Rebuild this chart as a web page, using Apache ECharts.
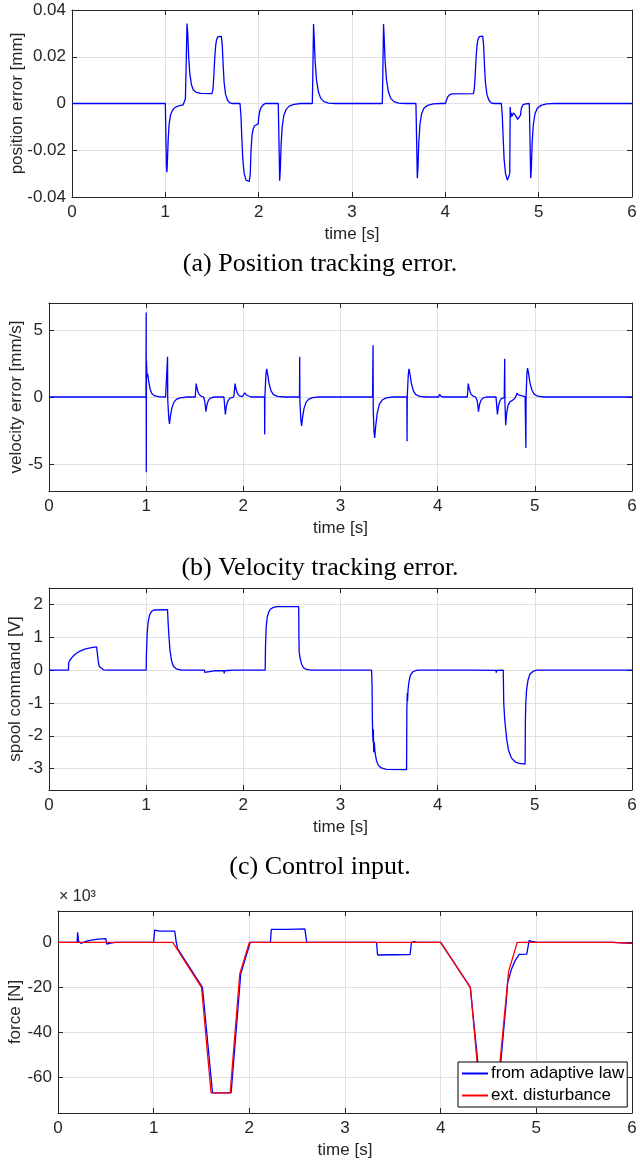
<!DOCTYPE html>
<html lang="en">
<head>
<meta charset="UTF-8">
<title>Tracking results</title>
<script src="https://cdn.jsdelivr.net/npm/echarts@6/dist/echarts.min.js"></script>
<style>
    html, body { margin: 0; padding: 0; background: #fff; }
    #chart { width: 640px; height: 1161px; }
</style>
</head>
<body>
<div id="chart"></div>
<script>
// tick values
var timeTicks = [0, 1, 2, 3, 4, 5, 6];
var posTicks = [-0.04, -0.02, 0, 0.02, 0.04];
var velTicks = [-5, 0, 5];
var spoolTicks = [-3, -2, -1, 0, 1, 2];
var forceTicks = [-60, -40, -20, 0];

// (a) position error [mm], pairs of [time s, value]
var positionError = [
    [0,0],[1.0,0],[1.005,-0.012],[1.012,-0.027],[1.017,-0.0294],[1.022,-0.025],[1.03,-0.016],[1.04,-0.009],
    [1.055,-0.005],[1.075,-0.003],[1.1,-0.0018],[1.14,-0.001],[1.19,-0.0006],[1.205,0],[1.215,0.002],
    [1.225,0.02],[1.232,0.0342],[1.24,0.03],[1.25,0.02],[1.262,0.013],[1.28,0.008],[1.3,0.0058],[1.33,0.0048],
    [1.38,0.0043],[1.5,0.0042],[1.51,0.006],[1.52,0.012],[1.53,0.02],[1.54,0.025],[1.55,0.0275],[1.565,0.0286],
    [1.6,0.0287],[1.61,0.025],[1.62,0.016],[1.63,0.009],[1.645,0.004],[1.665,0.0015],[1.69,0.0003],[1.72,0],
    [1.8,0],[1.81,-0.005],[1.82,-0.015],[1.83,-0.024],[1.845,-0.03],[1.865,-0.0328],[1.885,-0.0333],[1.9,-0.0333],
    [1.91,-0.03],[1.918,-0.02],[1.928,-0.014],[1.94,-0.011],[1.955,-0.0095],[1.975,-0.0088],[1.995,-0.0087],
    [2.0,-0.006],[2.01,-0.0035],[2.025,-0.0018],[2.045,-0.0007],[2.07,0],[2.21,0],[2.217,-0.015],[2.225,-0.033],
    [2.232,-0.028],[2.24,-0.018],[2.252,-0.01],[2.27,-0.005],[2.295,-0.0025],[2.33,-0.001],[2.38,-0.0004],[2.45,0],
    [2.575,0],[2.58,0.012],[2.588,0.034],[2.595,0.028],[2.605,0.018],[2.62,0.01],[2.64,0.005],[2.665,0.0022],
    [2.7,0.0008],[2.75,0.0002],[2.82,0],[3.325,0],[3.33,0.012],[3.338,0.034],[3.345,0.028],[3.355,0.018],
    [3.37,0.01],[3.39,0.005],[3.415,0.0022],[3.45,0.0008],[3.5,0.0002],[3.57,0],[3.685,0],[3.692,-0.015],
    [3.7,-0.032],[3.707,-0.027],[3.715,-0.017],[3.728,-0.009],[3.745,-0.0045],[3.77,-0.002],[3.81,-0.0008],
    [3.87,-0.0002],[3.95,0],[4.0,0],[4.01,0.0012],[4.025,0.0028],[4.045,0.0037],[4.07,0.0041],[4.3,0.0042],
    [4.31,0.006],[4.32,0.012],[4.33,0.02],[4.34,0.025],[4.35,0.0275],[4.365,0.0286],[4.4,0.0288],[4.41,0.025],
    [4.42,0.016],[4.43,0.009],[4.445,0.004],[4.465,0.0015],[4.49,0.0003],[4.52,0],[4.6,0],[4.61,-0.005],
    [4.62,-0.015],[4.63,-0.024],[4.645,-0.03],[4.665,-0.0328],[4.685,-0.0333],[4.69,-0.03],[4.695,-0.0015],
    [4.7,-0.006],[4.705,-0.004],[4.715,-0.0055],[4.73,-0.004],[4.75,-0.005],[4.775,-0.0068],[4.795,-0.0072],
    [4.805,-0.005],[4.815,-0.002],[4.83,-0.0006],[4.86,-0.0002],[4.9,0],[4.907,-0.015],[4.915,-0.032],
    [4.922,-0.027],[4.93,-0.017],[4.943,-0.009],[4.96,-0.0045],[4.985,-0.002],[5.025,-0.0008],[5.085,-0.0002],
    [5.17,0],[6,0]
];

// (b) velocity error [mm/s]
var velocityError = [
    [0,0],[0.998,0],[1.0,6.3],[1.001,-5.6],[1.003,2.7],[1.008,1.5],[1.015,1.75],[1.025,1.2],[1.04,0.6],
    [1.06,0.25],[1.09,0.08],[1.13,0.02],[1.2,0],[1.215,0],[1.22,3.0],[1.222,-0.2],[1.232,-1.5],[1.24,-2.0],
    [1.25,-1.4],[1.265,-0.8],[1.285,-0.4],[1.31,-0.18],[1.35,-0.06],[1.42,0],[1.505,0],[1.515,1.0],[1.525,0.6],
    [1.54,0.25],[1.56,0.08],[1.59,0],[1.6,0],[1.603,-0.3],[1.615,-1.1],[1.625,-0.6],[1.64,-0.25],[1.66,-0.08],
    [1.7,0],[1.8,0],[1.805,-0.4],[1.815,-1.3],[1.825,-0.7],[1.84,-0.3],[1.86,-0.1],[1.9,0],[1.905,0.2],
    [1.915,1.0],[1.925,0.6],[1.94,0.25],[1.96,0.08],[1.99,0.02],[2.005,0.05],[2.015,0.3],[2.03,0.15],[2.05,0.03],
    [2.08,0],[2.218,0],[2.22,-2.8],[2.222,0],[2.232,1.6],[2.24,2.1],[2.25,1.7],[2.265,1.0],[2.285,0.45],
    [2.31,0.18],[2.35,0.05],[2.42,0],[2.578,0],[2.58,3.0],[2.582,-0.3],[2.592,-1.7],[2.6,-2.15],[2.61,-1.5],
    [2.625,-0.85],[2.645,-0.4],[2.67,-0.18],[2.71,-0.05],[2.78,0],[3.33,0],[3.335,3.85],[3.337,-1.0],
    [3.345,-2.6],[3.352,-3.05],[3.362,-2.2],[3.378,-1.2],[3.4,-0.55],[3.43,-0.22],[3.47,-0.07],[3.54,0],
    [3.683,0],[3.685,-3.3],[3.687,0],[3.697,1.6],[3.705,2.1],[3.715,1.7],[3.73,1.0],[3.75,0.45],[3.775,0.18],
    [3.815,0.05],[3.88,0],[4.01,0],[4.02,0.2],[4.035,0.05],[4.06,0],[4.305,0],[4.315,1.0],[4.325,0.6],
    [4.34,0.25],[4.36,0.08],[4.39,0],[4.405,0],[4.408,-0.3],[4.42,-1.1],[4.43,-0.6],[4.445,-0.25],[4.465,-0.08],
    [4.5,0],[4.6,0],[4.605,-0.4],[4.615,-1.3],[4.625,-0.7],[4.64,-0.3],[4.655,-0.12],[4.685,-0.05],[4.69,2.85],
    [4.692,-0.3],[4.7,-2.1],[4.71,-1.2],[4.725,-0.6],[4.745,-0.35],[4.77,-0.25],[4.795,-0.1],[4.81,0.15],
    [4.818,0.3],[4.83,0.15],[4.85,0.05],[4.9,0.02],[4.905,0],[4.908,-3.8],[4.91,0],[4.918,1.7],[4.925,2.15],
    [4.935,1.8],[4.95,1.05],[4.97,0.5],[4.995,0.2],[5.03,0.06],[5.09,0],[6,0]
];

// (c) spool command [V]
var spoolCommand = [
    [0,0],[0.2,0],[0.202,0.22],[0.215,0.3],[0.235,0.38],[0.26,0.46],[0.29,0.53],[0.32,0.58],[0.36,0.63],
    [0.4,0.665],[0.45,0.69],[0.49,0.705],[0.5,0.71],[0.502,0.4],[0.51,0.2],[0.52,0.1],[0.535,0.04],[0.56,0.01],
    [0.6,0],[1.0,0],[1.003,0.5],[1.01,1.1],[1.02,1.45],[1.035,1.68],[1.055,1.79],[1.08,1.83],[1.22,1.84],
    [1.225,1.5],[1.235,1.0],[1.245,0.6],[1.26,0.3],[1.28,0.12],[1.31,0.04],[1.36,0],[1.5,0],[1.505,0.03],
    [1.51,0],[1.6,0],[1.603,-0.07],[1.607,-0.02],[1.7,-0.02],[1.8,-0.02],[1.803,-0.1],[1.807,-0.02],[1.9,0],
    [1.903,0.03],[1.91,0],[2.225,0],[2.228,0.7],[2.235,1.3],[2.245,1.6],[2.26,1.76],[2.28,1.86],[2.31,1.91],
    [2.35,1.93],[2.57,1.93],[2.572,1.0],[2.575,0.55],[2.585,0.35],[2.6,0.18],[2.62,0.07],[2.65,0.02],[2.7,0],
    [3.32,0],[3.325,-0.5],[3.328,-1.5],[3.332,-2.0],[3.336,-2.2],[3.338,-1.8],[3.342,-2.5],[3.348,-2.2],
    [3.355,-2.5],[3.37,-2.75],[3.39,-2.9],[3.42,-2.98],[3.47,-3.02],[3.68,-3.03],[3.683,-1.2],[3.687,-0.7],
    [3.69,-0.95],[3.695,-0.6],[3.705,-0.35],[3.72,-0.15],[3.745,-0.05],[3.78,-0.01],[3.82,0],[4.3,0],
    [4.303,0.03],[4.31,0],[4.4,0],[4.403,-0.06],[4.41,-0.01],[4.6,-0.01],[4.603,-0.08],[4.607,-0.01],[4.675,0],
    [4.68,-1.0],[4.69,-1.5],[4.71,-2.1],[4.73,-2.45],[4.76,-2.68],[4.8,-2.8],[4.84,-2.84],[4.9,-2.86],
    [4.903,-1.5],[4.907,-1.0],[4.915,-0.6],[4.93,-0.3],[4.95,-0.12],[4.98,-0.04],[5.02,0],[6,0]
];

// (d) force [N x 10^3]
var adaptiveForce = [
    [0,0],[0.2,0],[0.205,4.5],[0.215,0.5],[0.24,-0.4],[0.28,0.3],[0.35,1.0],[0.42,1.5],[0.5,1.7],[0.51,-0.8],
    [0.55,-0.3],[0.6,0],[1.0,0],[1.01,5.5],[1.03,6.0],[1.05,5.1],[1.15,5.0],[1.22,5.0],[1.235,0.5],[1.25,-2.8],
    [1.51,-20],[1.615,-67],[1.81,-67],[1.91,-14],[2.01,0],[2.22,0],[2.23,5.8],[2.4,5.8],[2.58,6.0],[2.6,0],
    [3.33,0],[3.34,-5.6],[3.5,-5.5],[3.68,-5.4],[3.695,0],[3.72,0.4],[3.75,0],[4.0,0],[4.31,-20],[4.42,-67],
    [4.6,-67],[4.685,-26.5],[4.7,-18],[4.74,-12],[4.78,-8],[4.82,-5.3],[4.9,-5.2],[4.91,-5],[4.925,0.9],
    [4.95,0.5],[5.0,0],[5.8,0],[6,-0.4]
];
var disturbanceForce = [
    [0,0],[1.2,0],[1.5,-20],[1.6,-67],[1.8,-67],[1.9,-14],[2.0,0],[4.0,0],[4.31,-20],[4.41,-67],[4.59,-67],
    [4.71,-13],[4.8,0],[5.8,0],[6,-0.4]
];

var sans = '"Liberation Sans", Helvetica, Arial, sans-serif';
var serif = '"Liberation Serif", "Times New Roman", serif';
var ink = '#262626';

function timeAxis(gi, top) {
    return {
        type: 'value', gridIndex: gi, min: 0, max: 6, interval: 1,
        position: top ? 'top' : 'bottom',
        name: top ? '' : 'time [s]',
        nameLocation: 'middle', nameGap: 29,
        nameTextStyle: { color: ink, fontSize: 17, fontFamily: sans },
        axisLine: { show: true, onZero: false, lineStyle: { color: ink } },
        axisTick: { show: true, inside: true, length: 5, lineStyle: { color: ink } },
        axisLabel: { show: !top, margin: 7, color: ink, fontSize: 17, fontFamily: sans },
        splitLine: { show: !top, lineStyle: { color: '#e0e0e0' } }
    };
}

function valueAxis(gi, right, min, max, ticks, name, gap, fmt) {
    return {
        type: 'value', gridIndex: gi, min: min, max: max,
        position: right ? 'right' : 'left',
        name: right ? '' : name,
        nameLocation: 'middle', nameGap: gap, nameMoveOverlap: false,
        nameTextStyle: { color: ink, fontSize: 17, fontFamily: sans },
        axisLine: { show: true, onZero: false, lineStyle: { color: ink } },
        axisTick: { show: true, inside: true, length: 5, customValues: ticks, lineStyle: { color: ink } },
        axisLabel: { show: !right, margin: 6, customValues: ticks, color: ink, fontSize: 17, fontFamily: sans, formatter: fmt },
        splitLine: { show: !right, lineStyle: { color: '#e0e0e0' } }
    };
}

function line(name, data, gi, color) {
    return {
        name: name, type: 'line', data: data, xAxisIndex: gi * 2, yAxisIndex: gi * 2,
        symbol: 'none', showSymbol: false, animation: false,
        lineStyle: { color: color, width: 1.3 }, itemStyle: { color: color }
    };
}

var chart = echarts.init(document.getElementById('chart'));

chart.setOption({
    backgroundColor: '#fff',
    animation: false,
    title: [
        { text: '(a) Position tracking error.', left: 'center', top: 251, padding: 0,
          textStyle: { fontFamily: serif, fontWeight: 'normal', fontSize: 26, color: '#000' } },
        { text: '(b) Velocity tracking error.', left: 'center', top: 555, padding: 0,
          textStyle: { fontFamily: serif, fontWeight: 'normal', fontSize: 26, color: '#000' } },
        { text: '(c) Control input.', left: 'center', top: 854, padding: 0,
          textStyle: { fontFamily: serif, fontWeight: 'normal', fontSize: 26, color: '#000' } },
        { text: '× 10³', left: 59, top: 889, padding: 0,
          textStyle: { fontFamily: sans, fontWeight: 'normal', fontSize: 16, color: ink } }
    ],
    grid: [
        { left: 72, right: 8, top: 10, height: 187, outerBoundsMode: 'none' },
        { left: 49, right: 8, top: 303, height: 188, outerBoundsMode: 'none' },
        { left: 49, right: 8, top: 588, height: 202, outerBoundsMode: 'none' },
        { left: 58, right: 8, top: 911, height: 202, outerBoundsMode: 'none' }
    ],
    xAxis: [
        timeAxis(0, false), timeAxis(0, true),
        timeAxis(1, false), timeAxis(1, true),
        timeAxis(2, false), timeAxis(2, true),
        timeAxis(3, false), timeAxis(3, true)
    ],
    yAxis: [
        valueAxis(0, false, -0.04, 0.04, posTicks, 'position error [mm]', 46, function (v) { return v === 0 ? '0' : v.toFixed(2); }),
        valueAxis(0, true, -0.04, 0.04, posTicks),
        valueAxis(1, false, -7, 7, velTicks, 'velocity error [mm/s]', 24),
        valueAxis(1, true, -7, 7, velTicks),
        valueAxis(2, false, -3.65, 2.5, spoolTicks, 'spool command [V]', 25),
        valueAxis(2, true, -3.65, 2.5, spoolTicks),
        valueAxis(3, false, -76, 14, forceTicks, 'force [N]', 34),
        valueAxis(3, true, -76, 14, forceTicks)
    ],
    legend: {
        data: ['from adaptive law', 'ext. disturbance'],
        orient: 'vertical', left: 458, top: 1062,
        icon: 'rect', itemWidth: 26, itemHeight: 2,
        backgroundColor: '#fff', borderColor: '#000', borderWidth: 1, borderRadius: 0,
        padding: [3, 3, 3, 4], itemGap: 5,
        textStyle: { color: '#000', fontSize: 17, fontFamily: sans, padding: [0, 0, 0, -2] }
    },
    series: [
        line('position error', positionError, 0, '#0000ff'),
        line('velocity error', velocityError, 1, '#0000ff'),
        line('spool command', spoolCommand, 2, '#0000ff'),
        line('from adaptive law', adaptiveForce, 3, '#0000ff'),
        line('ext. disturbance', disturbanceForce, 3, '#ff0000')
    ]
});
</script>
</body>
</html>
